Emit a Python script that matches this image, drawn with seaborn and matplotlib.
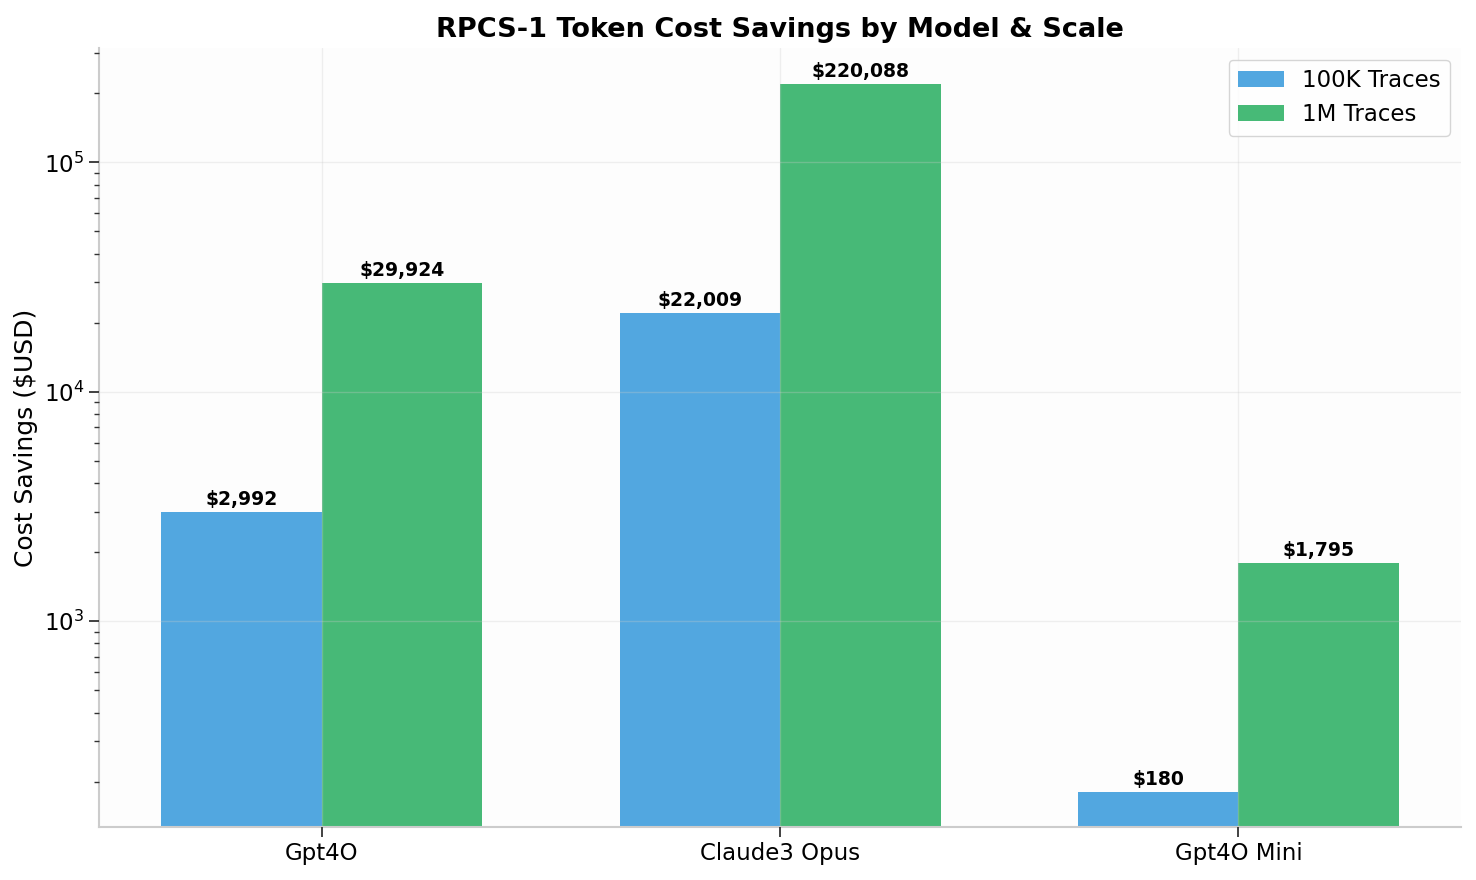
import matplotlib
matplotlib.use("Agg")
import matplotlib.pyplot as plt
import seaborn as sns
import pandas as pd

models = ["Gpt4O", "Claude3 Opus", "Gpt4O Mini"]
savings_100k = [2992, 22009, 180]
savings_1m = [29924, 220088, 1795]
series_names = ["100K Traces", "1M Traces"]
colors = ["#3498db", "#27ae60"]

df = pd.DataFrame({
    "model": models * 2,
    "savings": savings_100k + savings_1m,
    "scale": [series_names[0]] * 3 + [series_names[1]] * 3,
})

sns.set_style("white", rc={"text.color": "black", "axes.labelcolor": "black",
                           "xtick.color": "black", "ytick.color": "black"})
plt.rcParams["font.family"] = ["DejaVu Sans"]

fig, ax = plt.subplots(figsize=(14.76, 8.8), dpi=100)
fig.patch.set_facecolor("white")
ax.set_facecolor("#fdfdfd")

sns.barplot(data=df, x="model", y="savings", hue="scale", palette=colors,
            alpha=0.85, width=0.7, ax=ax, log_scale=(False, True), saturation=1,
            linewidth=0)

ax.set_yscale("log")
ax.set_ylim(126.6, 313800)
ax.set_xlim(-0.486, 2.486)

for container in ax.containers:
    for bar in container:
        h = bar.get_height()
        ax.annotate(f"${h:,.0f}", (bar.get_x() + bar.get_width() / 2, h),
                    xytext=(0, 2), textcoords="offset points",
                    ha="center", va="bottom", fontsize=13.5, fontweight="bold",
                    color="black")

ax.set_title("RPCS-1 Token Cost Savings by Model & Scale", fontsize=19.5,
             fontweight="bold", color="black", pad=8)
ax.set_xlabel("")
ax.set_ylabel("Cost Savings ($USD)", fontsize=18, color="black")
ax.tick_params(axis="both", labelsize=16.5, labelcolor="black")
ax.tick_params(axis="both", which="major", length=7, width=1.3, color="#333333",
               left=True, bottom=True)
ax.tick_params(axis="y", which="minor", length=3.5, width=1, color="#333333", left=True)

ax.set_axisbelow(False)
ax.grid(True, which="major", color="#cccccc", alpha=0.3, linewidth=1)

for s in ["top", "right"]:
    ax.spines[s].set_visible(False)
for s in ["left", "bottom"]:
    ax.spines[s].set_color("#cccccc")
    ax.spines[s].set_linewidth(1.5)

leg = ax.legend(loc="upper right", fontsize=16.5, frameon=True, edgecolor="#cccccc",
                title=None)
for t in leg.get_texts():
    t.set_color("black")

fig.subplots_adjust(left=0.067, right=0.99, top=0.945, bottom=0.06)
fig.savefig("out.png", dpi=100)
